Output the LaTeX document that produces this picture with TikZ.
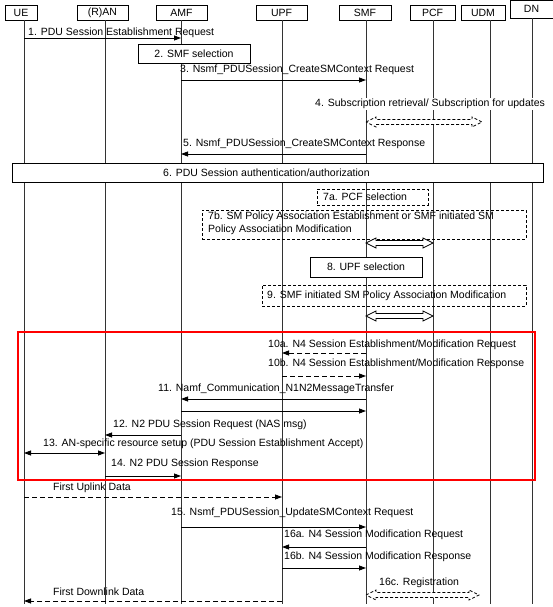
\documentclass[tikz,border=0pt]{standalone}
\usepackage{fontspec}
\setmainfont{Liberation Sans}
\usetikzlibrary{arrows.meta,calc}
\newcommand\dblarrow[3][]{%
  \draw[hollow,#1] let \p1=(#2), \p2=(#3) in
    (\p1) -- (\x1+10pt,\y1+5pt) -- (\x1+10pt,\y1+2.5pt) -- (\x2-10pt,\y1+2.5pt)
    -- (\x2-10pt,\y1+5pt) -- (\p2) -- (\x2-10pt,\y1-5pt) -- (\x2-10pt,\y1-2.5pt)
    -- (\x1+10pt,\y1-2.5pt) -- (\x1+10pt,\y1-5pt) -- cycle;}
\begin{document}
\begin{tikzpicture}[x=1pt,y=-1pt,
  font=\fontsize{10.5}{13}\selectfont,
  hdr/.style={draw, line width=0.7pt, inner sep=0, minimum height=15},
  life/.style={line width=0.7pt, draw=black!80},
  msg/.style={line width=0.8pt, -{Triangle[length=7pt,width=5pt]}},
  dmsg/.style={msg, dash pattern=on 5pt off 3pt},
  bmsg/.style={line width=0.8pt, {Triangle[length=7pt,width=5pt]}-{Triangle[length=7pt,width=5pt]}},
  lbl/.style={anchor=west, inner sep=0},
  box/.style={draw, fill=white, line width=0.7pt, inner sep=0},
  dbox/.style={draw, dash pattern=on 3pt off 2pt, line width=0.7pt, inner sep=0},
  hollow/.style={draw, fill=white, line width=0.7pt},
  dhollow/.style={dash pattern=on 3pt off 2pt}]
\useasboundingbox (0,0) rectangle (553,607);
% lifeline x positions
\coordinate (ueL) at (24,0);
\coordinate (ranL) at (105,0);
\coordinate (amfL) at (181,0);
\coordinate (upfL) at (282,0);
\coordinate (smfL) at (366,0);
\coordinate (pcfL) at (433,0);
\coordinate (udmL) at (490,0);
\coordinate (dnL) at (532,0);
\coordinate (udmA) at (482,0);
\coordinate (udmB) at (479,0);
% headers
\node[hdr, minimum width=32] (ue) at (21,12.5) {UE};
\node[hdr, minimum width=51] (ran) at (102.5,12.5) {(R)AN};
\node[hdr, minimum width=51] (amf) at (181.5,12.5) {AMF};
\node[hdr, minimum width=51] (upf) at (281.5,12.5) {UPF};
\node[hdr, minimum width=52] (smf) at (365,12.5) {SMF};
\node[hdr, minimum width=45] (pcf) at (432.5,12.5) {PCF};
\node[hdr, minimum width=44] (udm) at (483,12.5) {UDM};
\node[hdr, minimum width=43, minimum height=18] (dn) at (531.5,9) {DN};
% lifelines
\foreach \l/\h in {ueL/ue,ranL/ran,amfL/amf,upfL/upf,smfL/smf,pcfL/pcf,udmL/udm,dnL/dn}
  \draw[life] (\l |- \h.south) -- (\l |- 0,604);
% 1
\draw[msg] (ueL |- 0,38) -- (amfL |- 0,38);
\node[lbl] (t1) at (28,33) {1. PDU Session Establishment Request};
% 2
\node[box, minimum width=112, minimum height=19] (s2) at (194,53.5) {2. SMF selection};
% 3
\draw[msg] (amfL |- 0,80) -- (smfL |- 0,80);
\node[lbl] (t3) at (180,70) {3. Nsmf\_PDUSession\_CreateSMContext Request};
% 4
\node[lbl, fill=white, inner ysep=1pt] (t4) at (315,104) {4. Subscription retrieval/ Subscription for updates};
\dblarrow[dhollow]{smfL |- 0,122}{udmA |- 0,122}
% 5
\draw[msg] (smfL |- 0,154) -- (amfL |- 0,154);
\node[lbl] (t5) at (183,144) {5. Nsmf\_PDUSession\_CreateSMContext Response};
% 6
\node[box, minimum width=531, minimum height=19] (s6) at (277.5,172.5) {};
\node[lbl] (t6) at (163,173) {6. PDU Session authentication/authorization};
% 7a
\node[dbox, minimum width=111, minimum height=16] (s7a) at (372.5,197) {};
\node[lbl] (t7a) at (323,197) {7a. PCF selection};
% 7b
\node[dbox, minimum width=324, minimum height=29] (s7b) at (364,224.5) {};
\node[lbl, anchor=north west, align=left] (t7b) at (208,211.5) {7b. SM Policy Association Establishment or SMF initiated SM\\Policy Association Modification};
\dblarrow{smfL |- 0,243}{pcfL |- 0,243}
% 8
\node[box, minimum width=112, minimum height=20] (s8) at (366,267) {8. UPF selection};
% 9
\node[dbox, minimum width=264, minimum height=21] (s9) at (394,295.5) {};
\node[lbl] (t9) at (267,295.5) {9. SMF initiated SM Policy Association Modification};
\dblarrow{smfL |- 0,316}{pcfL |- 0,316}
% red frame
\node[draw=red, line width=1.5pt, minimum width=517, minimum height=148, inner sep=0] (frame) at (276.5,406) {};
% 10a / 10b
\draw[dmsg] (smfL |- 0,353) -- (upfL |- 0,353);
\node[lbl] (t10a) at (268,345) {10a. N4 Session Establishment/Modification Request};
\draw[dmsg] (upfL |- 0,376) -- (smfL |- 0,376);
\node[lbl] (t10b) at (268,364) {10b. N4 Session Establishment/Modification Response};
% 11
\node[lbl] (t11) at (158,389) {11. Namf\_Communication\_N1N2MessageTransfer};
\draw[msg] (smfL |- 0,399) -- (amfL |- 0,399);
\draw[msg] (amfL |- 0,411) -- (smfL |- 0,411);
% 12
\node[lbl] (t12) at (113,425) {12. N2 PDU Session Request (NAS msg)};
\draw[msg] (amfL |- 0,435) -- (ranL |- 0,435);
% 13
\node[lbl] (t13) at (43,444) {13. AN-specific resource setup (PDU Session Establishment Accept)};
\draw[bmsg] (ueL |- 0,453) -- (ranL |- 0,453);
% 14
\node[lbl] (t14) at (111,464) {14. N2 PDU Session Response};
\draw[msg] (ranL |- 0,476) -- (amfL |- 0,476);
% first uplink
\node[lbl] (tul) at (53,488) {First Uplink Data};
\draw[dmsg] (ueL |- 0,497) -- (upfL |- 0,497);
% 15
\node[lbl] (t15) at (171,513) {15. Nsmf\_PDUSession\_UpdateSMContext Request};
\draw[msg] (amfL |- 0,527) -- (smfL |- 0,527);
% 16a / 16b
\node[lbl] (t16a) at (284,535) {16a. N4 Session Modification Request};
\draw[msg] (smfL |- 0,547) -- (upfL |- 0,547);
\node[lbl] (t16b) at (284,557) {16b. N4 Session Modification Response};
\draw[msg] (upfL |- 0,568) -- (smfL |- 0,568);
% 16c
\node[lbl] (t16c) at (379,583) {16c. Registration};
\dblarrow[dhollow]{smfL |- 0,595}{udmB |- 0,595}
% first downlink
\node[lbl] (tdl) at (53,592) {First Downlink Data};
\draw[dmsg] (upfL |- 0,601) -- (ueL |- 0,601);
\end{tikzpicture}
\end{document}
